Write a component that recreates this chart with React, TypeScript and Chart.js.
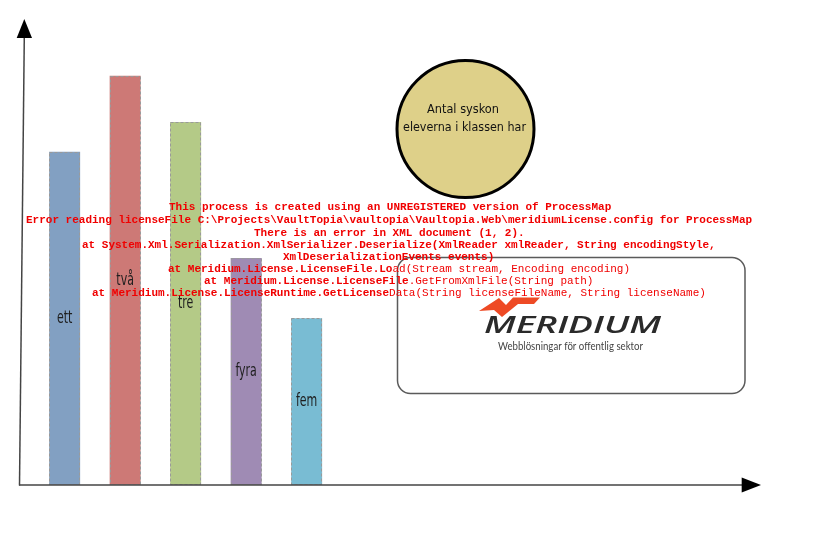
import React, { useEffect, useRef } from "react";
import { Chart, registerables } from "chart.js";

Chart.register(...registerables);

// ---- data ----
const categories = ["ett", "två", "tre", "fyra", "fem"];
const values = [71.5, 87.8, 77.9, 48.7, 35.8];
const barColors = ["#82a0c2", "#cd7976", "#b4ca87", "#9f8bb4", "#79bcd3"];
const bubbleLines = ["Antal syskon", "eleverna i klassen har"];
const errorLines: { x: number; bold: string; normal: string }[] = [
  { x: 169, bold: "This process is created using an UNREGISTERED version of ProcessMap", normal: "" },
  { x: 26, bold: "Error reading licenseFile C:\\Projects\\VaultTopia\\vaultopia\\Vaultopia.Web\\meridiumLicense.config for ProcessMap", normal: "" },
  { x: 254, bold: "There is an error in XML document (1, 2).", normal: "" },
  { x: 82, bold: "at System.Xml.Serialization.XmlSerializer.Deserialize(XmlReader xmlReader, String encodingStyle,", normal: "" },
  { x: 283, bold: "XmlDeserializationEvents events)", normal: "" },
  { x: 168, bold: "at Meridium.License.LicenseFile.Lo", normal: "ad(Stream stream, Encoding encoding)" },
  { x: 204, bold: "at Meridium.License.LicenseFile", normal: ".GetFromXmlFile(String path)" },
  { x: 92, bold: "at Meridium.License.LicenseRuntime.GetLicense", normal: "Data(String licenseFileName, String licenseName)" },
];
const logoName = "MERIDIUM";
const logoTagline = "Webblösningar för offentlig sektor";

function fitText(ctx: CanvasRenderingContext2D, text: string, x: number, y: number, w: number) {
  const m = ctx.measureText(text).width;
  ctx.save();
  ctx.translate(x, y);
  ctx.scale(w / m, 1);
  ctx.textAlign = "left";
  ctx.fillText(text, 0, 0);
  ctx.restore();
}

const decor = {
  id: "decor",
  afterDatasetsDraw(chart: any) {
    const ctx: CanvasRenderingContext2D = chart.ctx;
    const meta = chart.getDatasetMeta(0);
    ctx.save();
    meta.data.forEach((bar: any, i: number) => {
      const left = bar.x - bar.width / 2;
      ctx.strokeStyle = "#9a9a9a";
      ctx.lineWidth = 1;
      ctx.setLineDash([3, 2]);
      ctx.strokeRect(Math.round(left) + 0.5, Math.round(bar.y) + 0.5, Math.round(bar.width) - 1, Math.round(bar.base - bar.y) - 1);
      ctx.setLineDash([]);
      ctx.fillStyle = "#1e1e1e";
      ctx.font = "17px 'DejaVu Sans Condensed', 'DejaVu Sans', sans-serif";
      ctx.textAlign = "center";
      ctx.textBaseline = "middle";
      ctx.save();
      ctx.translate(bar.x, (bar.y + bar.base) / 2);
      ctx.scale(0.72, 1);
      ctx.fillText(categories[i], 0, 0);
      ctx.restore();
    });
    ctx.restore();
  },
  afterDraw(chart: any) {
    const ctx: CanvasRenderingContext2D = chart.ctx;
    const { bottom } = chart.chartArea;
    ctx.save();
    // axes
    ctx.strokeStyle = "#444";
    ctx.lineWidth = 1.5;
    ctx.beginPath();
    ctx.moveTo(19.5, bottom + 0.5);
    ctx.lineTo(24.3, 36);
    ctx.stroke();
    ctx.beginPath();
    ctx.moveTo(19, bottom);
    ctx.lineTo(743, bottom);
    ctx.stroke();
    ctx.fillStyle = "#000";
    ctx.beginPath();
    ctx.moveTo(24.3, 19);
    ctx.lineTo(32, 38);
    ctx.lineTo(16.7, 38);
    ctx.closePath();
    ctx.fill();
    ctx.beginPath();
    ctx.moveTo(761, bottom);
    ctx.lineTo(741.7, bottom - 7.5);
    ctx.lineTo(741.7, bottom + 7.5);
    ctx.closePath();
    ctx.fill();

    // bubble
    ctx.beginPath();
    ctx.arc(465.5, 129, 68.5, 0, Math.PI * 2);
    ctx.fillStyle = "#ded089";
    ctx.fill();
    ctx.lineWidth = 3;
    ctx.strokeStyle = "#000";
    ctx.stroke();
    ctx.fillStyle = "#111";
    ctx.textBaseline = "middle";
    ctx.font = "13px 'DejaVu Sans', sans-serif";
    fitText(ctx, bubbleLines[0], 427, 110, 72);
    fitText(ctx, bubbleLines[1], 403, 128, 123);

    // box
    ctx.beginPath();
    ctx.roundRect(397.5, 257.5, 347.5, 136, 13);
    ctx.fillStyle = "#fff";
    ctx.fill();
    ctx.lineWidth = 1.5;
    ctx.strokeStyle = "#5a5a5a";
    ctx.stroke();

    // logo
    ctx.fillStyle = "#ee4a25";
    ctx.beginPath();
    ctx.moveTo(479, 311);
    ctx.lineTo(499, 298);
    ctx.lineTo(506, 305);
    ctx.lineTo(513, 297.5);
    ctx.lineTo(540, 297.5);
    ctx.lineTo(534, 304);
    ctx.lineTo(518, 304);
    ctx.lineTo(502, 317);
    ctx.lineTo(494, 310);
    ctx.closePath();
    ctx.fill();
    ctx.fillStyle = "#2a2a2a";
    ctx.textBaseline = "alphabetic";
    ctx.font = "italic 600 24px 'Open Sans', sans-serif";
    fitText(ctx, logoName, 484, 333, 177);
    ctx.fillStyle = "#444";
    ctx.textBaseline = "middle";
    ctx.font = "11px 'Lato', sans-serif";
    fitText(ctx, logoTagline, 498, 346, 145);

    // red error text
    const ys = [207, 220, 233, 245, 257, 269, 281, 293];
    ctx.fillStyle = "#f00000";
    ctx.textAlign = "left";
    ctx.textBaseline = "middle";
    errorLines.forEach((ln, i) => {
      ctx.font = "bold 11px 'Liberation Mono', monospace";
      ctx.fillText(ln.bold, ln.x, ys[i]);
      const w = ctx.measureText(ln.bold).width;
      if (ln.normal) {
        ctx.font = "11px 'Liberation Mono', monospace";
        ctx.fillText(ln.normal, ln.x + w, ys[i]);
      }
    });
    ctx.restore();
  },
};

export default function App() {
  const ref = useRef<HTMLCanvasElement>(null);
  useEffect(() => {
    if (!ref.current) return;
    const chart = new Chart(ref.current, {
      type: "bar",
      data: {
        labels: categories,
        datasets: [
          {
            data: values,
            backgroundColor: barColors,
            borderWidth: 0,
            barPercentage: 0.64,
            categoryPercentage: 0.8,
          },
        ],
      },
      options: {
        responsive: false,
        animation: false,
        devicePixelRatio: 1,
        layout: { padding: { left: 34.4, right: 494.1, top: 19, bottom: 71 } },
        scales: {
          x: { display: false, offset: true },
          y: { display: false, min: 0, max: 100 },
        },
        plugins: { legend: { display: false }, tooltip: { enabled: false } },
      },
      plugins: [decor],
    });
    return () => chart.destroy();
  }, []);
  return (
    <canvas
      ref={ref}
      width={831}
      height={556}
      style={{ position: "absolute", left: 0, top: 0, background: "#fff" }}
    />
  );
}
